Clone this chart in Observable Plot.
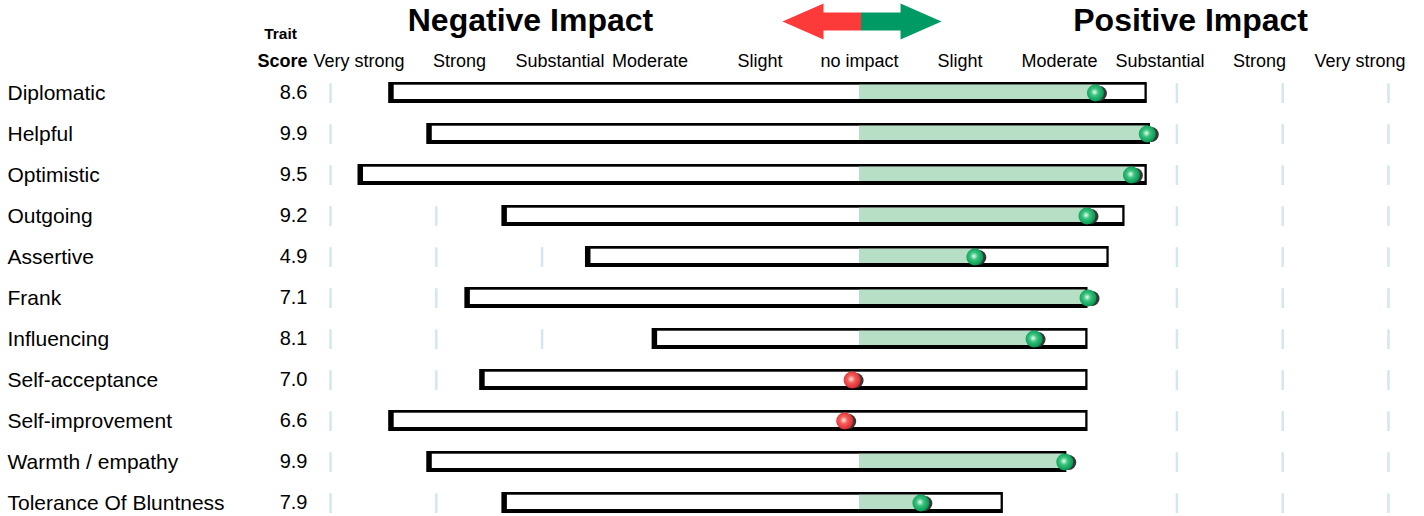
<!DOCTYPE html>
<html><head><meta charset="utf-8">
<script src="https://cdn.jsdelivr.net/npm/d3@7"></script>
<script src="https://cdn.jsdelivr.net/npm/@observablehq/plot@0.6"></script>
<style>body{margin:0;background:#fff;font-family:"Liberation Sans",Arial,sans-serif}</style>
</head><body><div id="chart"></div>
<script>
// ---- data ----
const traits = ["Diplomatic","Helpful","Optimistic","Outgoing","Assertive","Frank","Influencing","Self-acceptance","Self-improvement","Warmth / empathy","Tolerance Of Bluntness"];
const scores = ["8.6","9.9","9.5","9.2","4.9","7.1","8.1","7.0","6.6","9.9","7.9"];
const rangeLow  = [-4.45,-4.09,-4.74,-3.38,-2.59,-3.73,-1.96,-3.59,-4.45,-4.09,-3.38];
const rangeHigh = [2.72,2.75,2.72,2.51,2.36,2.16,2.16,2.16,2.16,1.96,1.36];
const impact    = [2.23,2.72,2.57,2.15,1.09,2.16,1.65,-0.07,-0.14,1.94,0.58];
const levelLabels = ["Very strong","Strong","Substantial","Moderate","Slight","no impact","Slight","Moderate","Substantial","Strong","Very strong"];
const levelLabelAt = [-4.73,-3.78,-2.83,-1.98,-0.94,0.0,0.95,1.89,2.84,3.78,4.73];
const gridLevels = [-5,-4,-3,3,4,5];
const headers = [{text:"Negative Impact", at:-3.11},{text:"Positive Impact", at:3.13}];
// decorative double arrow (level units / row units)
const redArrow = [[0.014,-1.963],[-0.340,-1.963],[-0.340,-2.183],[-0.728,-1.744],[-0.340,-1.305],[-0.340,-1.524],[0.014,-1.524]];
const greenArrow = [[0.014,-1.963],[0.388,-1.963],[0.388,-2.183],[0.775,-1.744],[0.388,-1.305],[0.388,-1.524],[0.014,-1.524]];

const rows = traits.map((t,i)=>({i, trait:t, score:scores[i], lo:rangeLow[i], hi:rangeHigh[i], m:impact[i]}));
const gridCells = rows.flatMap(r => gridLevels.map(g => ({i:r.i, g})));
const labelRows = levelLabels.map((t,k)=>({t, x:levelLabelAt[k]}));
const H = 0.256;
const font = "Liberation Sans, Arial, sans-serif";

const chart = Plot.plot({
  width: 1424, height: 516, margin: 0,
  style: {fontFamily: font, background: "#fff", color: "#000"},
  x: {domain: [-5, 5], range: [330, 1388], axis: null},
  y: {domain: [-2.256, 10.329], range: [0, 516], axis: null},
  marks: [
    Plot.ruleX(gridCells, {x: "g", y1: d => d.i - H + 0.03, y2: d => d.i + H, stroke: "#d3e7f1", strokeWidth: 2.5}),
    Plot.rect(rows, {x1: "lo", x2: "hi", y1: d => d.i - H, y2: d => d.i + H, fill: "#000"}),
    Plot.rect(rows, {x1: "lo", x2: "hi", y1: d => d.i - H, y2: d => d.i + H, fill: "#fff",
      insetLeft: 5.5, insetTop: 2.7, insetRight: 2.3, insetBottom: 4}),
    Plot.rect(rows.filter(d => d.m > 0), {x1: () => 0, x2: d => Math.min(d.m, d.hi), y1: d => d.i - H, y2: d => d.i + H,
      fill: "#b7dfc6", insetTop: 2.7, insetBottom: 4, insetRight: 2}),
    Plot.dot(rows, {x: "m", y: "i", r: 7.5, dx: 4, dy: 0.5, fill: "#383838"}),
    Plot.dot(rows, {x: "m", y: "i", r: 8.5, fill: d => d.m >= 0 ? "url(#gGreen)" : "url(#gRed)"}),
    Plot.text(rows, {frameAnchor: "left", y: "i", text: "trait", dx: 7, textAnchor: "start", fontSize: 21}),
    Plot.text(rows, {frameAnchor: "left", y: "i", text: "score", dx: 307, textAnchor: "end", fontSize: 20}),
    Plot.text(labelRows, {x: "x", y: () => -0.646, text: "t", lineAnchor: "bottom", fontSize: 18}),
    Plot.text(headers, {x: "at", y: () => -1.524, text: "text", lineAnchor: "bottom", fontSize: 32, fontWeight: "bold"}),
    Plot.text(["Trait"], {frameAnchor: "left", y: () => -1.305, text: d => d, dx: 280, lineAnchor: "bottom", textAnchor: "middle", fontSize: 15.5, fontWeight: "bold"}),
    Plot.text(["Score"], {frameAnchor: "left", y: () => -0.646, text: d => d, dx: 307, lineAnchor: "bottom", textAnchor: "end", fontSize: 18, fontWeight: "bold"}),
    Plot.line(redArrow, {x: d => d[0], y: d => d[1], fill: "#fc3a3a", stroke: "none"}),
    Plot.line(greenArrow, {x: d => d[0], y: d => d[1], fill: "#009b65", stroke: "none"})
  ]
});

// gradients for marker highlight
const svg = d3.select(chart);
const defs = svg.insert("defs", ":first-child");
const gg = defs.append("radialGradient").attr("id", "gGreen").attr("cx", "45%").attr("cy", "45%").attr("r", "55%");
gg.append("stop").attr("offset", "0%").attr("stop-color", "#e6fff0");
gg.append("stop").attr("offset", "40%").attr("stop-color", "#3cc27e");
gg.append("stop").attr("offset", "100%").attr("stop-color", "#00994f");
const gr = defs.append("radialGradient").attr("id", "gRed").attr("cx", "45%").attr("cy", "45%").attr("r", "55%");
gr.append("stop").attr("offset", "0%").attr("stop-color", "#ffe6dc");
gr.append("stop").attr("offset", "40%").attr("stop-color", "#f0605a");
gr.append("stop").attr("offset", "100%").attr("stop-color", "#e3262e");

document.getElementById("chart").appendChild(chart);
</script>
</body></html>
